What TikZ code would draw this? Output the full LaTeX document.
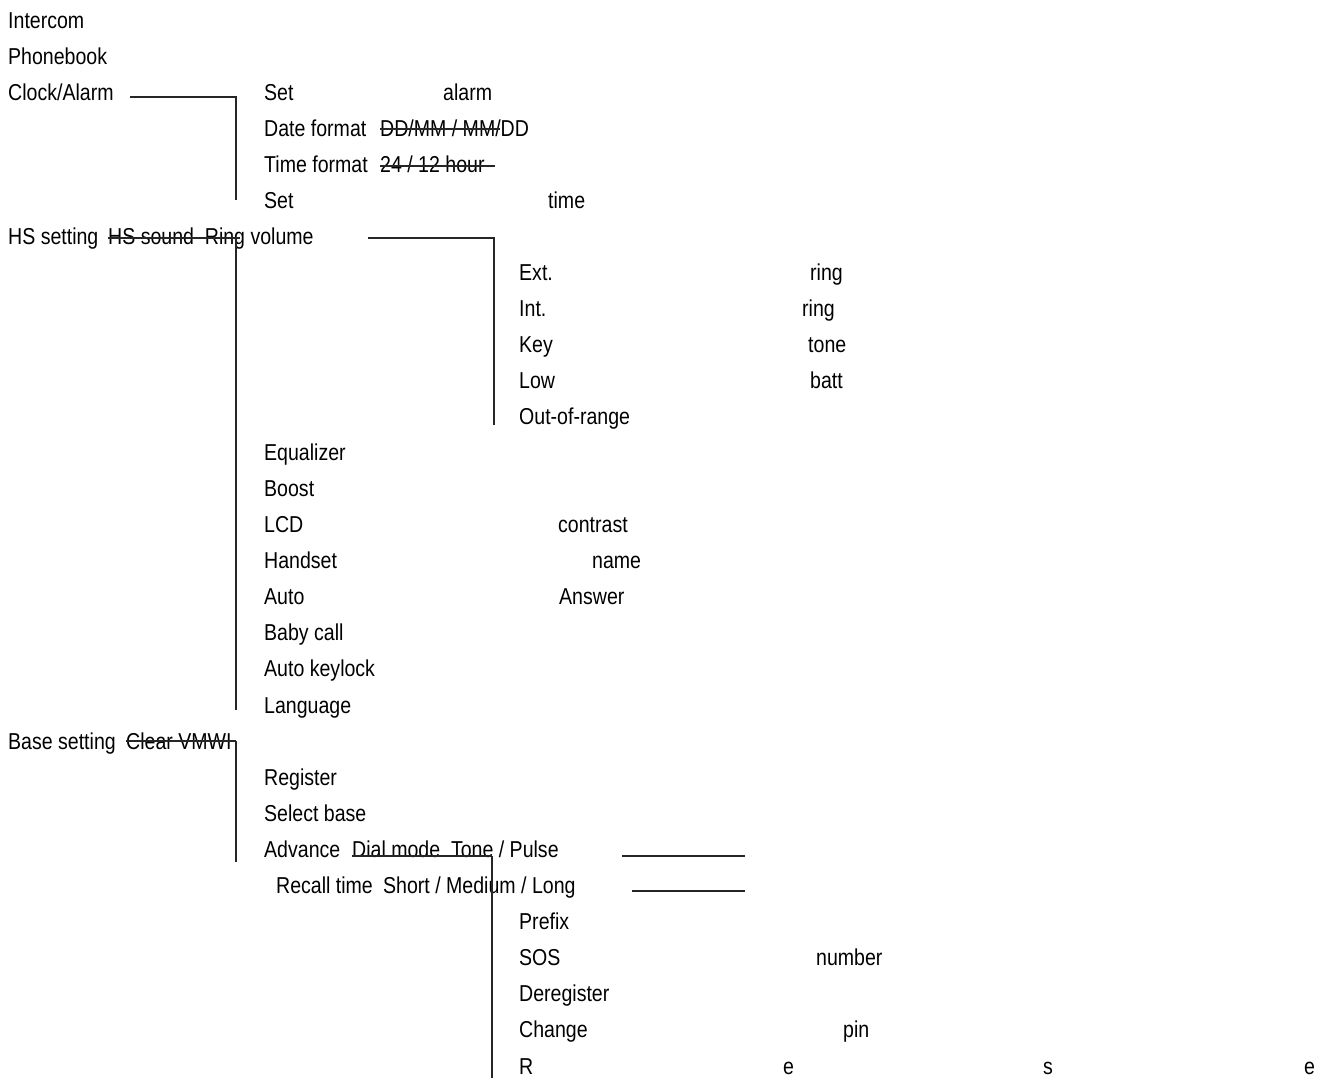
\documentclass[tikz,border=0pt]{standalone}
\usepackage{fontspec}
\setmainfont{Liberation Sans}[FakeStretch=0.85]
\begin{document}
\begin{tikzpicture}[x=1pt,y=-1pt,
  lbl/.style={anchor=base west,inner sep=0pt,font=\fontsize{23}{26}\selectfont},
  ln/.style={line width=1.3pt,black!85}]
\useasboundingbox (0,0) rectangle (1318,1084);
\foreach \t/\x/\y/\n in {Intercom/8/20/a1,Phonebook/8/56/a2,{Clock/Alarm}/8/92/a3,Set/264/92/a4,alarm/443/92/a5,
 Date format/264/128/a6,{DD/MM / MM/DD}/380/128/a7,Time format/264/164/a8,{24 / 12 hour}/380/164/a9,Set/264/200/a10,time/548/200/a11,
 HS setting/8/236/b1,HS sound\ \ Ring volume/108/236/b2,Ext./519/272/b3,ring/810/272/b4,Int./519/308/b5,ring/802/308/b6,
 Key/519/344/b7,tone/808/344/b8,Low/519/380/b9,batt/810/380/b10,Out-of-range/519/416/b11,Equalizer/264/452/b12,Boost/264/488/b13,
 LCD/264/524/b14,contrast/558/524/b15,Handset/264/560/b16,name/592/560/b17,Auto/264/596/b18,Answer/559/596/b19,
 Baby call/264/632/b20,Auto keylock/264/668/b21,Language/264/705/b22,
 Base setting/8/741/c1,Clear VMWI/126/741/c2,Register/264/777/c3,Select base/264/813/c4,Advance/264/849/c5,
 {Dial mode\ \ Tone / Pulse}/352/849/c6,Recall time/276/885/c7,{Short / Medium / Long}/383/885/c8,Prefix/519/921/c9,
 SOS/519/957/c10,number/816/957/c11,Deregister/519/993/c12,Change/519/1029/c13,pin/843/1029/c14,
 R/519/1066/c15,e/783/1066/c16,s/1043/1066/c17,e/1304/1066/c18}
 \node[lbl] (\n) at (\x,\y+8.5) {\t};
% strike-throughs
\draw[ln] (380,129) -- (500,129);
\draw[ln] (380,166) -- (495,166);
\draw[ln] (108,238) -- (240,238);
\draw[ln] (126,741) -- (236,741);
\draw[ln] (352,856) -- (492,856);
% connectors
\coordinate (p1) at (130,97); \coordinate (p2) at (236,97); \coordinate (p3) at (236,200);
\draw[ln] (p1) -- (p2) -- (p3);
\coordinate (q1) at (236,238); \coordinate (q2) at (236,710);
\draw[ln] (q1) -- (q2);
\coordinate (r1) at (368,238); \coordinate (r2) at (494,238); \coordinate (r3) at (494,425);
\draw[ln] (r1) -- (r2) -- (r3);
\coordinate (s1) at (236,741); \coordinate (s2) at (236,862);
\draw[ln] (s1) -- (s2);
\coordinate (t1) at (492,856); \coordinate (t2) at (492,1078);
\draw[ln] (t1) -- (t2);
\coordinate (u1) at (622,856); \coordinate (u2) at (745,856);
\draw[ln] (u1) -- (u2);
\coordinate (v1) at (632,891); \coordinate (v2) at (745,891);
\draw[ln] (v1) -- (v2);
\end{tikzpicture}
\end{document}
